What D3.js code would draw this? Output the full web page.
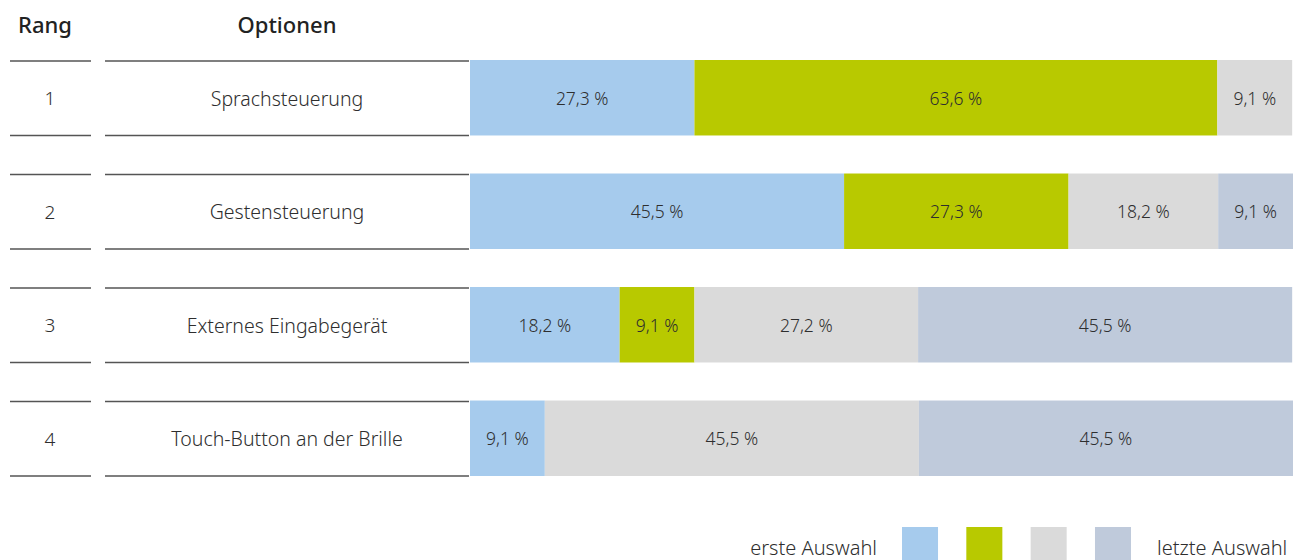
<!DOCTYPE html>
<html>
<head>
<meta charset="utf-8">
<script src="https://cdn.jsdelivr.net/npm/d3@7"></script>
<style>
  body { margin: 0; background: #fff; }
  svg text { font-family: "Noto Sans", sans-serif; fill: #2e2e2e; font-weight: 300; }
</style>
</head>
<body>
<div id="chart"></div>
<script>
// Data
var ranks = ["1", "2", "3", "4"];
var options = ["Sprachsteuerung", "Gestensteuerung", "Externes Eingabegerät", "Touch-Button an der Brille"];
var choices = ["c1", "c2", "c3", "c4"];
var c1 = [27.3, 45.5, 18.2, 9.1];
var c2 = [63.6, 27.3, 9.1, 0];
var c3 = [9.1, 18.2, 27.2, 45.5];
var c4 = [0, 9.1, 45.5, 45.5];
var colors = ["#a6cbed", "#b8c900", "#dadada", "#bfcadb"];
var legendLeft = "erste Auswahl";
var legendRight = "letzte Auswahl";

var width = 1305, height = 560;

var svg = d3.select("#chart").append("svg")
    .attr("width", width)
    .attr("height", height);

// Build a table for the stack layout
var rows = ranks.map(function(r, i) {
    return {rank: r, option: options[i], c1: c1[i], c2: c2[i], c3: c3[i], c4: c4[i]};
});

var stacked = d3.stack().keys(choices)(rows);

// Scales
var x = d3.scaleLinear().domain([0, 100.1]).range([470, 1293]);
var y = d3.scaleBand().domain(ranks).range([60, 476]).paddingInner(0.335);
var color = d3.scaleOrdinal().domain(choices).range(colors);

// Headers
svg.append("text").attr("x", 45).attr("y", 33)
    .attr("text-anchor", "middle").style("font-size", "22px").style("font-weight", 500)
    .style("fill", "#222").text("Rang");
svg.append("text").attr("x", 287).attr("y", 33)
    .attr("text-anchor", "middle").style("font-size", "22px").style("font-weight", 500)
    .style("fill", "#222").text("Optionen");

// Left table rows
var table = svg.append("g");
rows.forEach(function(d) {
    var top = y(d.rank), bot = y(d.rank) + y.bandwidth();
    [top + 1, bot].forEach(function(yy) {
        table.append("line").attr("x1", 10).attr("x2", 91).attr("y1", yy).attr("y2", yy)
            .attr("stroke", "#555").attr("stroke-width", 1.3);
        table.append("line").attr("x1", 105).attr("x2", 469).attr("y1", yy).attr("y2", yy)
            .attr("stroke", "#555").attr("stroke-width", 1.3);
    });
    table.append("text").attr("x", 50).attr("y", (top + bot) / 2 + 1)
        .attr("dy", "0.35em").attr("text-anchor", "middle")
        .style("font-size", "19px").text(d.rank);
    table.append("text").attr("x", 287).attr("y", (top + bot) / 2 + 1)
        .attr("dy", "0.35em").attr("text-anchor", "middle")
        .style("font-size", "19.5px").text(d.option);
});

// Bars
var layers = svg.append("g").selectAll("g.layer")
    .data(stacked)
    .enter().append("g")
    .attr("class", "layer")
    .attr("fill", function(s) { return color(s.key); });

layers.selectAll("rect")
    .data(function(s) { return s.filter(function(p) { return p[1] - p[0] > 0; }); })
    .enter().append("rect")
    .attr("x", function(p) { return x(p[0]); })
    .attr("width", function(p) { return x(p[1]) - x(p[0]); })
    .attr("y", function(p) { return y(p.data.rank); })
    .attr("height", y.bandwidth());

layers.selectAll("text")
    .data(function(s) { return s.filter(function(p) { return p[1] - p[0] > 0; }); })
    .enter().append("text")
    .attr("x", function(p) { return (x(p[0]) + x(p[1])) / 2; })
    .attr("y", function(p) { return y(p.data.rank) + y.bandwidth() / 2 + 1; })
    .attr("dy", "0.35em")
    .attr("text-anchor", "middle")
    .style("font-size", "17.5px")
    .text(function(p) { return d3.format(".1f")(p[1] - p[0]).replace(".", ",") + " %"; });

// Legend
var legend = svg.append("g");
var legendX = d3.scaleBand().domain(choices).range([902, 1131]).paddingInner(0.44);
legend.selectAll("rect")
    .data(choices)
    .enter().append("rect")
    .attr("x", function(k) { return legendX(k); })
    .attr("y", 527)
    .attr("width", legendX.bandwidth())
    .attr("height", 36)
    .attr("fill", function(k) { return color(k); });
legend.append("text").attr("x", 877).attr("y", 555).attr("text-anchor", "end")
    .style("font-size", "20px").text(legendLeft);
legend.append("text").attr("x", 1157).attr("y", 555).attr("text-anchor", "start")
    .style("font-size", "20px").text(legendRight);
</script>
</body>
</html>
